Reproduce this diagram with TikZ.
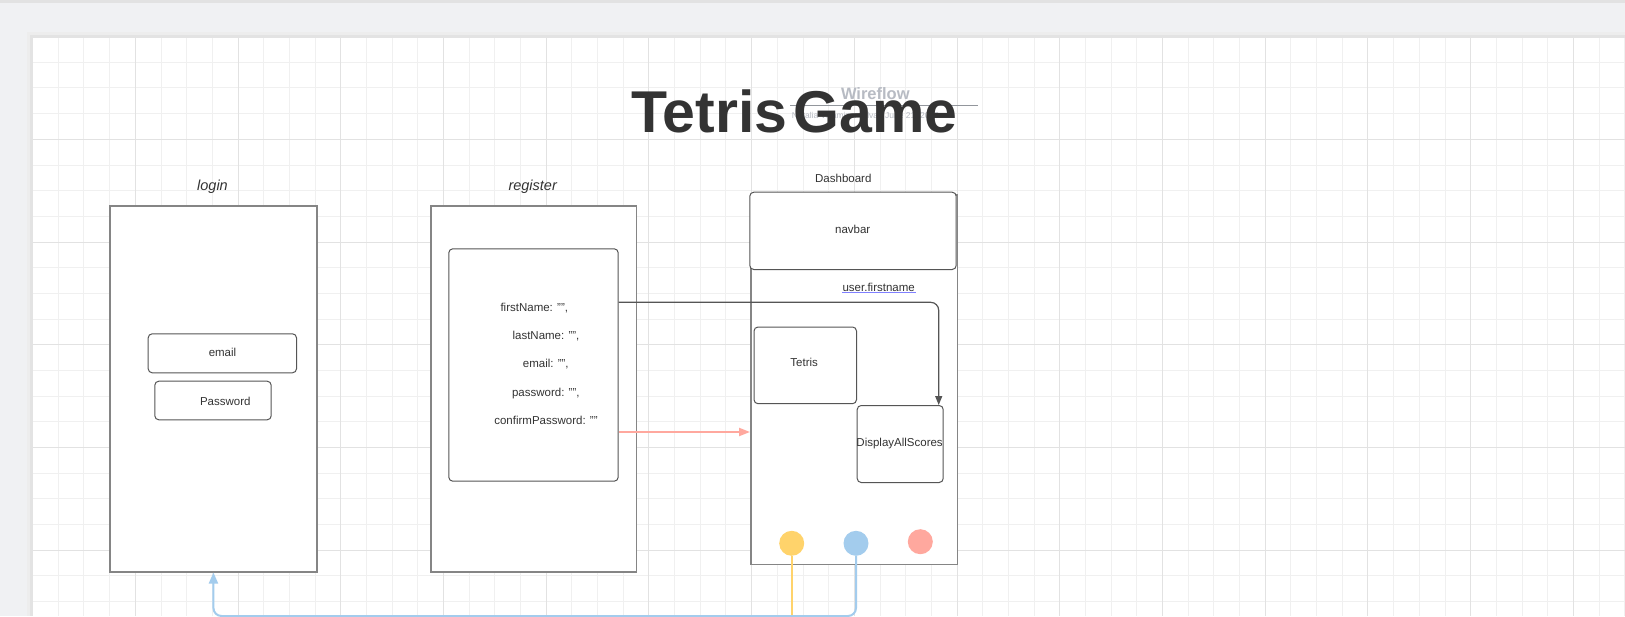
\documentclass[tikz,border=0pt]{standalone}
\usepackage{fontspec}
\setmainfont{Liberation Sans}
\usetikzlibrary{arrows.meta,calc}

\definecolor{canvas}{HTML}{F0F1F3}
\definecolor{gridminor}{HTML}{F0F0F0}
\definecolor{gridmajor}{HTML}{E2E2E2}
\definecolor{ink}{HTML}{333333}
\definecolor{framegray}{HTML}{858585}
\definecolor{boxgray}{HTML}{555555}
\definecolor{dotyellow}{HTML}{FFD36B}
\definecolor{dotblue}{HTML}{A3CCED}
\definecolor{dotsalmon}{HTML}{FFA89E}
\definecolor{faint}{HTML}{B7BBC3}

\tikzset{
  frame/.style={draw=framegray,line width=1.5pt,fill=white,anchor=north west,inner sep=0pt},
  wirebox/.style={draw=boxgray,line width=1pt,rounded corners=4pt,fill=white,anchor=north west,inner sep=0pt},
  lbl/.style={text=ink,font=\fontsize{11.5}{13}\selectfont,inner sep=0pt,anchor=base},
  pagetitle/.style={text=ink,font=\fontsize{14.5}{16}\selectfont\itshape,inner sep=0pt,anchor=base},
  dot/.style={circle,minimum size=25pt,inner sep=0pt},
  link/.style={line width=2pt,rounded corners=8pt}
}

\begin{document}
\begin{tikzpicture}[x=1pt,y=-1pt]
	\useasboundingbox (0,0) rectangle (1625,616);
	\clip (0,0) rectangle (1625,616);

	\fill[canvas] (0,0) rectangle (1625,616);
	\fill[gridmajor] (0,0) rectangle (1625,2.5);
	\fill[black!7] (27,32) rectangle (1625,616);
	\fill[black!11] (30,35) rectangle (1625,616);
	\fill[white] (33,38) rectangle (1625,616);

	\foreach \i in {1,...,62}
		\draw[gridminor,line width=1pt] ({32.6+25.68*\i},38) -- ({32.6+25.68*\i},616);
	\foreach \j in {1,...,23}
		\draw[gridminor,line width=1pt] (33,{36.6+25.68*\j}) -- (1625,{36.6+25.68*\j});
	\foreach \i in {4,8,...,60}
		\draw[gridmajor,line width=1pt] ({32.6+25.68*\i},38) -- ({32.6+25.68*\i},616);
	\foreach \j in {4,8,...,20}
		\draw[gridmajor,line width=1pt] (33,{36.6+25.68*\j}) -- (1625,{36.6+25.68*\j});

	\node[text=faint,font=\fontsize{16.5}{18}\selectfont\bfseries,inner sep=0pt,anchor=base] (wireflow) at (875.3,99.3) {Wireflow};
	\draw[faint!80!black,line width=1pt] (790,105) -- (978,105);
	\node[text=faint,font=\fontsize{8.5}{10}\selectfont,inner sep=0pt,anchor=base west] (byline) at (791.7,118.3) {Natalia Villamizar Silva | June 21, 2023};
	\node[text=ink,font=\fontsize{59}{63}\selectfont\bfseries,inner sep=0pt,anchor=base] (title) at (794.4,132.7) {Tetris\hspace{6pt}Game};

	\node[frame,minimum width=206.8pt,minimum height=365.8pt] (login) at (109.3,205.2) {};
	\node[pagetitle] (logintitle) at (212.5,190) {login};
	\node[wirebox,minimum width=148.3pt,minimum height=39pt] (emailbox) at (147.7,333.3) {};
	\node[lbl] (emailtext) at (222.5,356.5) {email};
	\node[wirebox,minimum width=116.4pt,minimum height=38.6pt] (pwdbox) at (154.3,380.7) {};
	\node[lbl] (pwdtext) at (225.3,405.5) {Password};

	\node[frame,minimum width=205.6pt,minimum height=365.8pt] (register) at (430.1,205.2) {};
	\node[pagetitle] (regtitle) at (532.7,190) {register};
	\node[wirebox,minimum width=169.4pt,minimum height=232.4pt] (regform) at (448.3,248.3) {};
	\node[lbl] (fname) at (534.3,311.2) {firstName: "",};
	\node[lbl] (lname) at (546,339.5) {lastName: "",};
	\node[lbl] (remail) at (545.8,367.8) {email: "",};
	\node[lbl] (rpwd) at (545.8,396.2) {password: "",};
	\node[lbl] (rconfirm) at (546,424.2) {confirmPassword: ""};

	\node[frame,minimum width=206.5pt,minimum height=369.5pt] (dash) at (750,194) {};
	\node[lbl] (dashtitle) at (843.3,182.8) {Dashboard};
	\node[wirebox,minimum width=206.4pt,minimum height=77.3pt] (navbar) at (749.3,191.7) {};
	\node[lbl] (navtext) at (852.7,233.8) {navbar};
	\node[lbl] (username) at (878.7,291.5) {user.firstname};
	\draw[blue!50!white,line width=1pt] (username.base west) ++(0,1.3) -- ++(73.7,0);
	\node[wirebox,minimum width=102.5pt,minimum height=76.7pt] (tetris) at (753.5,326.5) {};
	\node[lbl] (tetristext) at (804.2,366.2) {Tetris};
	\node[wirebox,minimum width=86pt,minimum height=77pt] (scores) at (856.7,405) {};
	\node[lbl] (scorestext) at (899.6,446) {DisplayAllScores};

	\draw[boxgray,line width=1.2pt,rounded corners=8pt,-{Triangle[length=9pt,width=7pt]}]
		(regform.east |- 0,302.3) -| ([xshift=-5pt]scores.north east);
	\draw[dotsalmon,line width=2pt,-{Triangle[length=11pt,width=8pt]}]
		(regform.east |- 0,432) -- (dash.west |- 0,432);

	\node[dot,fill=dotyellow] (yellowdot) at (791.7,543.3) {};
	\node[dot,fill=dotblue] (bluedot) at (856,543.3) {};
	\node[dot,fill=dotsalmon] (salmondot) at (920.3,541.7) {};

	\draw[dotyellow,line width=2pt] (yellowdot.south) -- (yellowdot |- 0,630);
	\draw[dotblue,link,-{Triangle[length=11pt,width=9pt]}]
		(bluedot.south) |- ($(login.south)+(0,43.5)$) -- (login.south);

\end{tikzpicture}
\end{document}
